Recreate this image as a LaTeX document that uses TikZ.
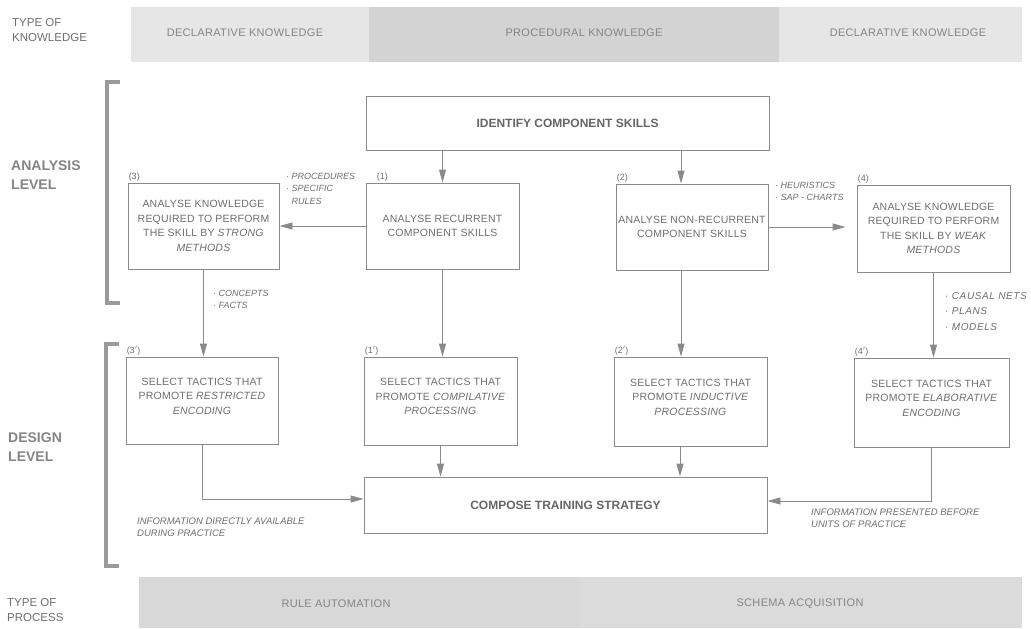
\documentclass[tikz,border=0pt]{standalone}
\usepackage{fontspec}
\setmainfont{Liberation Sans}
\usetikzlibrary{arrows.meta,calc}
\definecolor{bandA}{HTML}{E6E6E6}
\definecolor{bandB}{HTML}{D3D3D3}
\definecolor{bandC}{HTML}{D8D8D8}
\definecolor{bandD}{HTML}{DBDBDB}
\definecolor{bandtxt}{HTML}{858585}
\definecolor{linec}{HTML}{8A8A8A}
\definecolor{txtc}{HTML}{6E6E6E}
\definecolor{boldc}{HTML}{666666}
\definecolor{brk}{HTML}{9A9A9A}
\begin{document}
\begin{tikzpicture}[x=1pt,y=-1pt,
  box/.style={draw=linec, line width=0.9pt, text=txtc, align=center, inner sep=0pt,
    font=\fontsize{10.5}{14.5}\selectfont\addfontfeature{LetterSpace=2}},
  tacticbox/.style={box, text depth=9pt},
  bbox/.style={draw=linec, line width=0.9pt, text=boldc, align=center, inner sep=0pt,
    font=\fontsize{12}{14}\selectfont\bfseries},
  arr/.style={draw=linec, line width=0.9pt, -{Triangle[length=13pt,width=7pt]}},
  num/.style={text=txtc, inner sep=1pt, anchor=south west, font=\fontsize{9}{10}\selectfont},
  note/.style={text=txtc, inner sep=0pt, anchor=north west, align=left,
    font=\fontsize{9}{12.5}\selectfont\itshape},
  bandlbl/.style={text=bandtxt, font=\fontsize{11}{12}\selectfont\addfontfeature{LetterSpace=3}},
  sidelbl/.style={text=txtc, align=left, anchor=west, inner sep=0pt, font=\fontsize{11.5}{15}\selectfont},
  levellbl/.style={text=bandtxt, align=left, anchor=west, inner sep=0pt, font=\fontsize{14}{18.5}\selectfont\bfseries},
  bracket/.style={draw=brk, line width=3.5pt}
]
\useasboundingbox (0,0) rectangle (1031,629);

% top band
\fill[bandA] (131,7) rectangle (369,62);
\fill[bandB] (369,7) rectangle (779,62);
\fill[bandA] (779,7) rectangle (1022,62);
\node[bandlbl] (dk1) at (245,33) {DECLARATIVE KNOWLEDGE};
\node[bandlbl] (pk) at (584,33) {PROCEDURAL KNOWLEDGE};
\node[bandlbl] (dk2) at (908,33) {DECLARATIVE KNOWLEDGE};
\node[sidelbl] (tok) at (12,30) {TYPE OF\\KNOWLEDGE};

% bottom band
\fill[bandC] (139,577) rectangle (580,628);
\fill[bandD] (580,577) rectangle (1022,628);
\node[bandlbl] (ra) at (336,604) {RULE AUTOMATION};
\node[bandlbl] (sa) at (800,604) {SCHEMA ACQUISITION};
\node[sidelbl] (top2) at (7,610) {TYPE OF\\PROCESS};

% brackets and level labels
\draw[bracket] (120,82) -- (107,82) -- (107,303) -- (120,303);
\draw[bracket] (119,344) -- (106,344) -- (106,566) -- (119,566);
\node[levellbl] (al) at (11,175) {ANALYSIS\\LEVEL};
\node[levellbl] (dl) at (8,447) {DESIGN\\LEVEL};

% boxes
\node[bbox, minimum width=403pt, minimum height=54pt] (top) at (567.5,123) {IDENTIFY COMPONENT SKILLS};
\node[box, minimum width=151pt, minimum height=86pt] (b3) at (203.5,226)
  {ANALYSE KNOWLEDGE\\REQUIRED TO PERFORM\\THE SKILL BY \textit{STRONG}\\\textit{METHODS}};
\node[box, minimum width=153pt, minimum height=86pt] (b1) at (442.5,226)
  {ANALYSE RECURRENT\\COMPONENT SKILLS};
\node[box, minimum width=152pt, minimum height=86pt] (b2) at (692,227)
  {ANALYSE NON-RECURRENT\\COMPONENT SKILLS};
\node[box, minimum width=153pt, minimum height=87pt] (b4) at (933.5,228.5)
  {ANALYSE KNOWLEDGE\\REQUIRED TO PERFORM\\THE SKILL BY \textit{WEAK}\\\textit{METHODS}};

\node[tacticbox, minimum width=152pt, minimum height=87pt] (b3p) at (202,400.5)
  {SELECT TACTICS THAT\\PROMOTE \textit{RESTRICTED}\\\textit{ENCODING}};
\node[tacticbox, minimum width=153pt, minimum height=88pt] (b1p) at (440.5,401)
  {SELECT TACTICS THAT\\PROMOTE \textit{COMPILATIVE}\\\textit{PROCESSING}};
\node[tacticbox, minimum width=153pt, minimum height=89pt] (b2p) at (690.5,401.5)
  {SELECT TACTICS THAT\\PROMOTE \textit{INDUCTIVE}\\\textit{PROCESSING}};
\node[tacticbox, minimum width=155pt, minimum height=89pt] (b4p) at (931.5,402.5)
  {SELECT TACTICS THAT\\PROMOTE \textit{ELABORATIVE}\\\textit{ENCODING}};

\node[bbox, minimum width=403pt, minimum height=56pt] (compose) at (565.5,505) {COMPOSE TRAINING STRATEGY};

% number labels
\node[num] (n3) at (b3.north west) {(3)};
\node[num] (n1) at ([xshift=10pt]b1.north west) {(1)};
\node[num] (n2) at (b2.north west) {(2)};
\node[num] (n4) at (b4.north west) {(4)};
\node[num] (n3p) at (b3p.north west) {(3$'$)};
\node[num] (n1p) at (b1p.north west) {(1$'$)};
\node[num] (n2p) at (b2p.north west) {(2$'$)};
\node[num] (n4p) at (b4p.north west) {(4$'$)};

% annotations
\node[note] (proc) at (286,173) {· PROCEDURES\\· SPECIFIC\\\phantom{· }RULES};
\node[note] (conc) at (213,290) {· CONCEPTS\\· FACTS};
\node[note] (heur) at (775,182) {· HEURISTICS\\· SAP - CHARTS};
\node[note, font=\fontsize{10}{15.5}\selectfont\itshape\addfontfeature{LetterSpace=6}] (caus) at (945,292) {· CAUSAL NETS\\· PLANS\\· MODELS};
\node[note, font=\fontsize{9.5}{12}\selectfont\itshape] (info1) at (137,518) {INFORMATION DIRECTLY AVAILABLE\\DURING PRACTICE};
\node[note, font=\fontsize{9.5}{12}\selectfont\itshape] (info2) at (811,509) {INFORMATION PRESENTED BEFORE\\UNITS OF PRACTICE};

% connectors
\coordinate (b2in) at ([xshift=-11pt]b2.north);
\coordinate (b2out) at ([xshift=-11pt]b2.south);
\coordinate (b2pout) at ([xshift=-10.5pt]b2p.south);
\draw[arr] (top.south -| b1.north) -- (b1.north);
\draw[arr] (top.south -| b2in) -- (b2in);
\draw[arr] (b1.west) -- (b1.west -| b3.east);
\draw[arr, shorten >=11pt] (b2.east) -- (b2.east -| b4.west);
\draw[arr] (b3.south) -- (b3.south |- b3p.north);
\draw[arr] (b1.south) -- (b1.south |- b1p.north);
\draw[arr] (b2out) -- (b2out |- b2p.north);
\draw[arr] (b4.south) -- (b4.south |- b4p.north);
\draw[arr] (b1p.south) -- (b1p.south |- compose.north);
\draw[arr] (b2pout) -- (b2pout |- compose.north);
\draw[arr] (b3p.south) |- ([yshift=6pt]compose.west);
\draw[arr] (b4p.south) |- ([yshift=4pt]compose.east);
\end{tikzpicture}
\end{document}
